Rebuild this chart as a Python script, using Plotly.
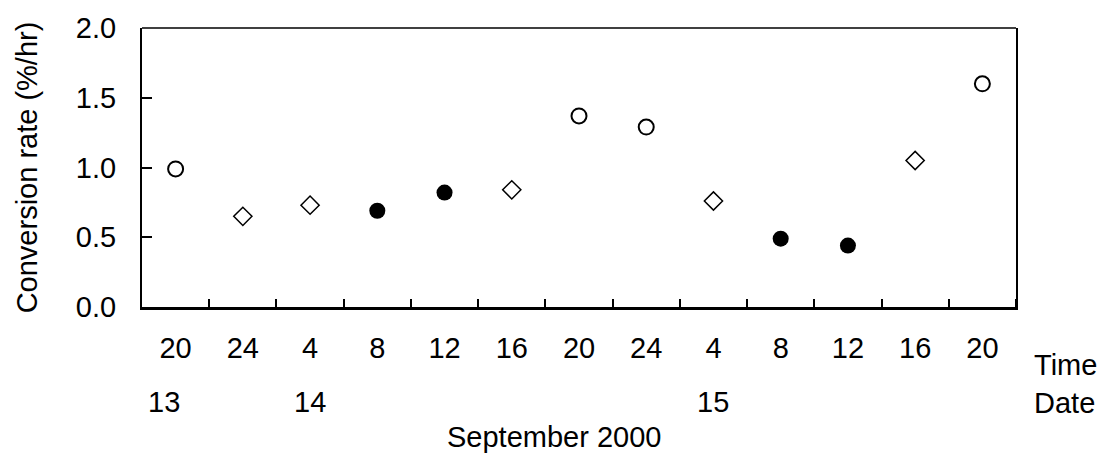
import plotly.graph_objects as go

# ---- data ----
time_labels = ["20", "24", "4", "8", "12", "16", "20", "24", "4", "8", "12", "16", "20"]
rates = [0.99, 0.65, 0.73, 0.69, 0.82, 0.84, 1.37, 1.29, 0.76, 0.49, 0.44, 1.05, 1.60]
marker_kind = ["open_circle", "open_diamond", "open_diamond", "filled_circle", "filled_circle",
               "open_diamond", "open_circle", "open_circle", "open_diamond", "filled_circle",
               "filled_circle", "open_diamond", "open_circle"]
date_labels = ["13", "14", "15"]
date_positions = [0, 2, 8]  # category index where each date label sits
y_ticks = [0.0, 0.5, 1.0, 1.5, 2.0]

FONT = "Liberation Sans, Arial, sans-serif"
FS = 29

styles = {
    "open_circle": dict(symbol="circle-open", size=15, line=dict(width=2, color="black"), color="black"),
    "open_diamond": dict(symbol="diamond-open", size=14, line=dict(width=1.5, color="black"), color="black"),
    "filled_circle": dict(symbol="circle", size=16, color="black", line=dict(width=0)),
}

fig = go.Figure()
for kind, st in styles.items():
    xs = [i for i, k in enumerate(marker_kind) if k == kind]
    ys = [rates[i] for i in xs]
    fig.add_trace(go.Scatter(x=xs, y=ys, mode="markers", marker=st, showlegend=False,
                             hoverinfo="skip"))

n = len(time_labels)
fig.update_layout(
    width=1099, height=455,
    margin=dict(l=142, r=83, t=25, b=148),
    plot_bgcolor="white", paper_bgcolor="white",
    font=dict(family=FONT, size=FS, color="black"),
    xaxis=dict(
        range=[-0.5, n - 0.5],
        tickmode="array", tickvals=list(range(n)), ticktext=time_labels,
        ticks="", showgrid=False, zeroline=False,
        showline=True, linecolor="black", linewidth=3,
        ticklabelstandoff=13,
        tickfont=dict(family=FONT, size=FS, color="black"),
        minor=dict(tickmode="array", tickvals=[i + 0.5 for i in range(n)],
                   ticks="inside", ticklen=8, tickwidth=1.5, tickcolor="black", showgrid=False),
    ),
    yaxis=dict(
        range=[0, 2.0], tickmode="array", tickvals=y_ticks,
        ticktext=[f"{v:.1f}" for v in y_ticks],
        ticks="inside", ticklen=10, tickwidth=1.5, tickcolor="black",
        showgrid=False, zeroline=False,
        showline=True, linecolor="black", linewidth=2, mirror=True,
        ticklabelstandoff=18,
        tickfont=dict(family=FONT, size=FS, color="black"),
        title=dict(text="Conversion rate (%/hr)", font=dict(family=FONT, size=FS, color="black"),
                   standoff=30),
    ),
)

# top frame line
fig.add_shape(type="line", xref="paper", yref="paper", x0=0, x1=1, y0=1, y1=1,
              line=dict(color="black", width=1.5))

annos = []
for lab, pos in zip(date_labels, date_positions):
    annos.append(dict(x=pos, xref="x", y=-0.34, yref="paper", text=lab, showarrow=False,
                      xanchor="center", yanchor="middle", xshift=-12 if pos == 0 else 0,
                      font=dict(family=FONT, size=FS, color="black")))
annos.append(dict(x=1.0183, xref="paper", y=-0.209, yref="paper", text="Time", showarrow=False,
                  xanchor="left", yanchor="middle", font=dict(family=FONT, size=FS, color="black")))
annos.append(dict(x=1.0183, xref="paper", y=-0.344, yref="paper", text="Date", showarrow=False,
                  xanchor="left", yanchor="middle", font=dict(family=FONT, size=FS, color="black")))
annos.append(dict(x=0.4714, xref="paper", y=-0.465, yref="paper", text="September 2000",
                  showarrow=False, xanchor="center", yanchor="middle",
                  font=dict(family=FONT, size=FS, color="black")))
fig.update_layout(annotations=annos)

fig.write_html("out.html")
